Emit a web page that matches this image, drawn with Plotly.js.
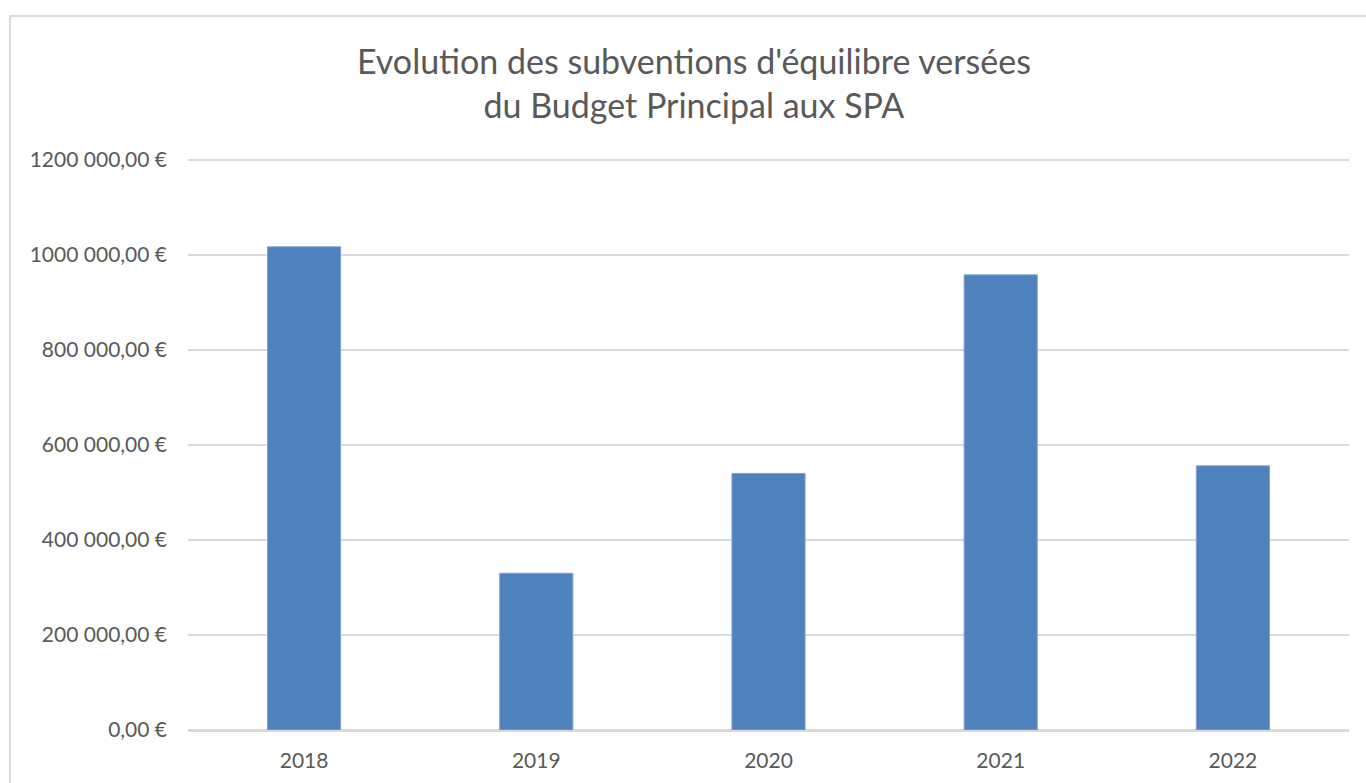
<!DOCTYPE html>
<html>
<head>
<meta charset="utf-8">
<script src="https://cdn.plot.ly/plotly-3.0.1.min.js"></script>
<style>
  html, body { margin: 0; padding: 0; background: #ffffff; }
  #wrap { position: relative; width: 1366px; height: 783px; overflow: hidden; }
  #frame { position: absolute; left: 9px; top: 15px; width: 1400px; height: 800px;
           border-left: 2px solid #d9d9d9; border-top: 2px solid #d9d9d9; pointer-events: none; }
  #chart { position: absolute; left: 0; top: 0; width: 1366px; height: 783px; }
</style>
</head>
<body>
<div id="wrap">
  <div id="chart"></div>
  <div id="frame"></div>
</div>
<script>
const years = ['2018', '2019', '2020', '2021', '2022'];
const subventions = [1017000, 330000, 540000, 958000, 556000];
const yTickValues = [0, 200000, 400000, 600000, 800000, 1000000, 1200000];
const yTickLabels = ['0,00 €', '200 000,00 €', '400 000,00 €', '600 000,00 €', '800 000,00 €', '1000 000,00 €', '1200 000,00 €'];
const chartTitle = "Evolution des subventions d'équilibre versées<br>du Budget Principal aux SPA";

const FONT = 'Lato, "Open Sans", sans-serif';
const TXT = '#595959';

const trace = {
  type: 'bar',
  x: years,
  y: subventions,
  marker: { color: '#4f81bd', line: { color: '#7ea3d3', width: 1 } },
  hoverinfo: 'x+y'
};

const layout = {
  width: 1366,
  height: 783,
  paper_bgcolor: '#ffffff',
  plot_bgcolor: '#ffffff',
  font: { family: FONT, color: TXT },
  showlegend: false,
  bargap: 0.685,
  margin: { l: 188, r: 17, t: 157, b: 53, pad: 0 },
  title: {
    text: chartTitle,
    font: { family: FONT, size: 34, color: TXT },
    xref: 'container', x: 0.508, xanchor: 'center',
    yref: 'container', y: 0.906, yanchor: 'top'
  },
  xaxis: {
    type: 'category',
    showgrid: false,
    showline: true,
    linecolor: '#d9d9d9',
    linewidth: 2,
    ticks: '',
    ticklabelstandoff: 11,
    tickfont: { family: FONT, size: 21, color: TXT }
  },
  yaxis: {
    range: [0, 1206000],
    tickmode: 'array',
    tickvals: yTickValues,
    ticktext: yTickLabels,
    showgrid: true,
    gridcolor: '#d9d9d9',
    gridwidth: 2,
    zeroline: true,
    zerolinecolor: '#d9d9d9',
    zerolinewidth: 2,
    showline: false,
    ticks: '',
    ticklabelstandoff: 20,
    tickfont: { family: FONT, size: 21, color: TXT }
  }
};

Plotly.newPlot('chart', [trace], layout, { displayModeBar: false, staticPlot: true });
</script>
</body>
</html>
